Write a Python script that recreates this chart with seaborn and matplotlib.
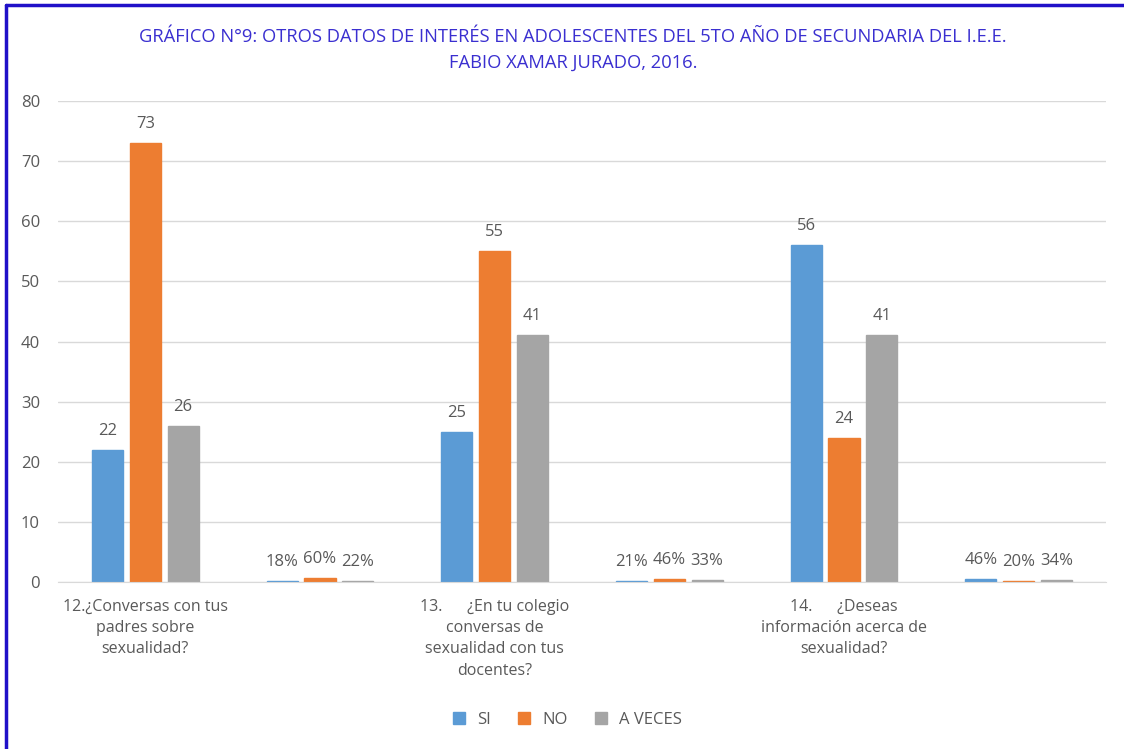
import numpy as np
import pandas as pd
import matplotlib.pyplot as plt
import seaborn as sns
from matplotlib.lines import Line2D

# data
questions = ['12.¿Conversas con tus\npadres sobre\nsexualidad?',
             'pct12',
             '13.      ¿En tu colegio\nconversas de\nsexualidad con tus\ndocentes?',
             'pct13',
             '14.      ¿Deseas\ninformación acerca de\nsexualidad?',
             'pct14']
si = [22, 0.18, 25, 0.21, 56, 0.46]
no = [73, 0.60, 55, 0.46, 24, 0.20]
a_veces = [26, 0.22, 41, 0.33, 41, 0.34]
series = ['SI', 'NO', 'A VECES']
colors = ['#5B9BD5', '#ED7D31', '#A5A5A5']

df = pd.DataFrame({
    'pregunta': questions * 3,
    'serie': np.repeat(series, len(questions)),
    'valor': si + no + a_veces,
})

sns.set_style('white')
plt.rcParams['font.family'] = ['Open Sans', 'DejaVu Sans']
txt = '#595959'

fig = plt.figure(figsize=(11.24, 7.49), dpi=100)
ax = fig.add_axes([58 / 1124, 1 - 582 / 749, (1106 - 58) / 1124, (582 - 101) / 749])

sns.barplot(data=df, x='pregunta', y='valor', hue='serie', order=questions,
            hue_order=series, palette=colors, width=0.65, gap=0.18,
            saturation=1, ax=ax, legend=False)
# thin edge so the tiny percentage bars stay visible
for cont, c in zip(ax.containers, colors):
    for bar in cont:
        bar.set_edgecolor(c)
        bar.set_linewidth(1)

ax.set_ylim(0, 80)
ax.set_yticks(range(0, 81, 10))
ax.grid(axis='y', color='#D9D9D9', linewidth=1)
ax.set_axisbelow(True)
for s in ['top', 'right', 'left']:
    ax.spines[s].set_visible(False)
ax.spines['bottom'].set_color('#D9D9D9')
ax.tick_params(axis='y', length=0, labelsize=12, colors=txt, pad=13)
ax.tick_params(axis='x', length=0, labelsize=11.5, colors=txt, pad=12)
ax.set_xlabel('')
ax.set_ylabel('')
ax.set_xticks(range(len(questions)))
ax.set_xticklabels([q if not q.startswith('pct') else '' for q in questions],
                   linespacing=1.45)

# value labels
for cont in ax.containers:
    labels = []
    for i, v in enumerate(cont.datavalues):
        if i % 2 == 1:
            labels.append('{:.0f}%'.format(v * 100))
        else:
            labels.append('{:.0f}'.format(v))
    ax.bar_label(cont, labels=labels, padding=8, fontsize=12, color=txt)

# legend
handles = [Line2D([0], [0], marker='s', linestyle='', markersize=8,
                  markerfacecolor=c, markeredgecolor=c) for c in colors]
fig.legend(handles, series, loc='center', bbox_to_anchor=(0.5, 1 - 720 / 749),
           ncol=3, frameon=False, fontsize=12, handletextpad=0.1,
           columnspacing=1.0, labelcolor=txt)

fig.text(0.51, 1 - 50 / 749,
         'GRÁFICO N°9: OTROS DATOS DE INTERÉS EN ADOLESCENTES DEL 5TO AÑO DE SECUNDARIA DEL I.E.E.\nFABIO XAMAR JURADO, 2016.',
         ha='center', va='center', color='#3A2FD0', fontsize=13.2, linespacing=1.5)

# frame lines (top and left only)
fig.add_artist(Line2D([6 / 1124, 1], [1 - 5 / 749, 1 - 5 / 749],
                      transform=fig.transFigure, color='#2010C8', linewidth=2.5))
fig.add_artist(Line2D([6 / 1124, 6 / 1124], [0, 1 - 5 / 749],
                      transform=fig.transFigure, color='#2010C8', linewidth=2.5))

fig.savefig('out.png', dpi=100)
